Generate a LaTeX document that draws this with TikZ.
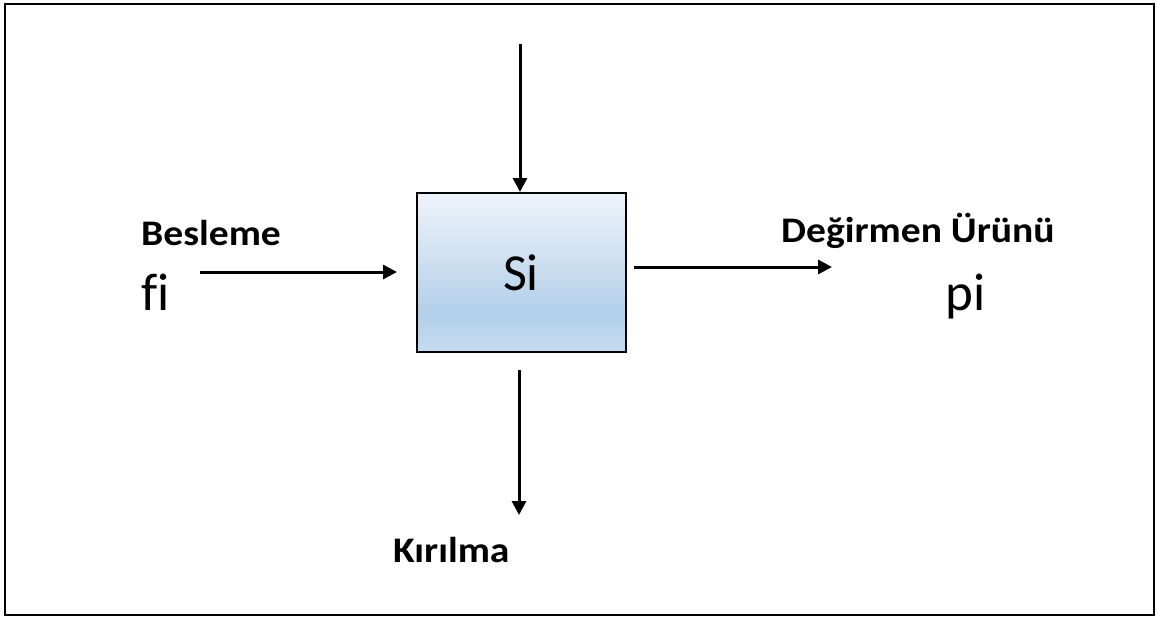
\documentclass[tikz,border=0pt]{standalone}
\usepackage{fontspec}
\setmainfont{Carlito}[Ligatures=NoCommon]
\newfontfamily\lblfont{Carlito}[FakeStretch=1.1]
\newfontfamily\bigfont{Carlito}[Ligatures=NoCommon]
\usetikzlibrary{arrows.meta}
\definecolor{boxtop}{RGB}{239,244,251}
\definecolor{boxdark}{RGB}{178,207,233}
\definecolor{boxbot}{RGB}{198,220,240}
\pgfdeclareverticalshading{boxshade}{100bp}{color(0bp)=(boxbot); color(25bp)=(boxbot); color(37bp)=(boxdark); color(75bp)=(boxtop); color(100bp)=(boxtop)}
\tikzset{
  arr/.style={line width=3pt,-{Triangle[length=14pt,width=14pt]}},
  bold lbl/.style={font=\lblfont\bfseries\fontsize{36}{42}\selectfont, anchor=base west, inner sep=0pt},
  big lbl/.style={font=\bigfont\fontsize{53}{60}\selectfont, anchor=base west, inner sep=0pt},
  procbox/.style={draw, line width=2pt, shading=boxshade, minimum width=209pt, minimum height=159pt, inner sep=0pt}
}
\begin{document}
\begin{tikzpicture}[x=1pt,y=-1pt]
\useasboundingbox (0,0) rectangle (1157,618);
\draw[line width=2.5pt] (5,4) rectangle (1154,615);
\node[procbox] (S) at (521.5,272.5) {};
\node[font=\bigfont\fontsize{52}{60}\selectfont, anchor=base, inner sep=0pt] (Si) at (521,290) {Si};
\node[bold lbl] (besleme) at (141,245) {Besleme};
\node[big lbl] (fi) at (141,310) {f\kern0pt i};
\node[bold lbl] (urun) at (781,242) {Değirmen Ürünü};
\node[big lbl] (pi) at (945,310) {pi};
\node[bold lbl] (kirilma) at (393,562) {Kırılma};
\coordinate (topin) at (520,44);
\coordinate (fin) at (200,272);
\coordinate (pout) at (832,267);
\coordinate (kout) at (519,515);
\draw[arr] (topin) -- (topin |- S.north);
\draw[arr, shorten >=19pt] (fin) -- (fin -| S.west);
\draw[arr, shorten <=7pt] (S.east |- pout) -- (pout);
\draw[arr, shorten <=17pt] (kout |- S.south) -- (kout);
\end{tikzpicture}
\end{document}
